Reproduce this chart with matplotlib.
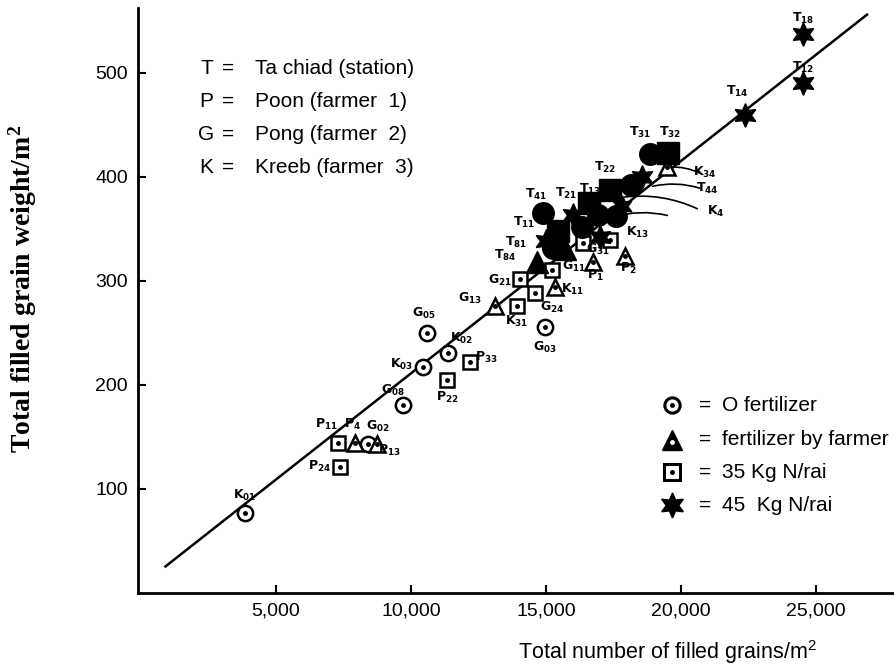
import matplotlib.pyplot as plt

plt.rcParams["mathtext.default"] = "regular"

# regression line  (weight = a + b * grains)
line_a, line_b = 6.9, 0.0204
line_x = [900, 26900]

# O fertilizer (open circle)
circ_names = ["K01", "G08", "K03", "G05", "K02", "G02", "G03"]
circ_x = [3850, 9700, 10450, 10600, 11370, 8400, 14950]
circ_y = [77, 180, 217, 250, 230, 143, 255]

# fertilizer by farmer (open triangle)
tri_names = ["P4", "P13", "G13", "K11", "P1", "P2", "K34"]
tri_x = [7930, 8740, 13110, 15330, 16740, 17930, 19480]
tri_y = [144, 143, 276, 294, 318, 324, 409]

# 35 Kg N/rai (open square)
sq_names = ["P11", "P24", "P22", "P33", "K31", "G21", "G24", "G11", "G31", "K13"]
sq_x = [7300, 7370, 11330, 12190, 13930, 14040, 14590, 15220, 16370, 17370]
sq_y = [144, 121, 204, 222, 276, 302, 288, 310, 336, 339]

# 45 Kg N/rai (star)
star_names = ["T18", "T12", "T14", "T21", "", "", ""]
star_x = [24520, 24520, 22370, 16000, 15000, 17000, 18550]
star_y = [537, 490, 459, 363, 338, 342, 400]

# station plots (filled, crowded group)
tf_names = ["T84", "T81", "T41", "T11", "T13", "T22", "T31", "T32", "T44", "", "", "", "", ""]
tf_mark = ["^", "o", "o", "s", "o", "s", "o", "s", "*", "o", "s", "o", "o", "^"]
tf_x = [14670, 15260, 14890, 15440, 16930, 17370, 18850, 19520, 17810, 16350, 16600, 18150, 17600, 15700]
tf_y = [318, 331, 365, 348, 363, 387, 422, 423, 372, 352, 375, 392, 362, 330]

# label offsets (pixels)
circ_off = [(0, 17), (-10, 15), (-22, 3), (-3, 19), (14, 15), (10, 18), (0, -20)]
tri_off = [(-3, 18), (12, -6), (-25, 7), (18, -3), (3, -14), (3, -13), (38, -5)]
sq_off = [(-12, 18), (-20, 0), (0, -17), (16, 4), (0, -16), (-20, -2), (17, -14), (22, 4), (15, -6), (28, 8)]
star_off = [(0, 16), (0, 15), (-8, 24), (-7, 22), (0, 0), (0, 0), (0, 0)]
tf_off = [(-32, 6), (-37, 6), (-7, 19), (-34, 8), (-8, 26), (-5, 23), (-10, 21), (2, 20), (85, 17),
          (0, 0), (0, 0), (0, 0), (0, 0), (0, 0)]

fig = plt.figure(figsize=(8.94, 6.69), dpi=100)
ax = fig.add_axes([0.154, 0.114, 0.846, 0.874])

ax.plot(line_x, [line_a + line_b * v for v in line_x], color="black", lw=1.8, zorder=1)


def hollow(xs, ys, marker, ms):
    ax.plot(xs, ys, ls="none", marker=marker, ms=ms, mfc="white", mec="black", mew=1.8, zorder=3)
    ax.plot(xs, ys, ls="none", marker="o", ms=2.5, color="black", zorder=4)


hollow(circ_x, circ_y, "o", 11)
hollow(tri_x, tri_y, "^", 12)
hollow(sq_x, sq_y, "s", 10)
for m, x, y in zip(tf_mark, tf_x, tf_y):
    if m == "*":
        m = (6, 1, 0)
    ax.plot(x, y, ls="none", marker=m, ms=15.5, color="black", zorder=5)
ax.plot(star_x, star_y, ls="none", marker=(6, 1, 0), ms=17, color="black", zorder=5)


def labels(names, xs, ys, offs):
    for n, x, y, (dx, dy) in zip(names, xs, ys, offs):
        if not n:
            continue
        txt = n[0] + "$_{" + n[1:] + "}$"
        ax.annotate(txt, (x, y), xytext=(dx, dy), textcoords="offset pixels",
                    ha="center", va="center", fontsize=9, fontweight="bold", zorder=6)


labels(circ_names, circ_x, circ_y, circ_off)
labels(tri_names, tri_x, tri_y, tri_off)
labels(sq_names, sq_x, sq_y, sq_off)
labels(star_names, star_x, star_y, star_off)
labels(tf_names, tf_x, tf_y, tf_off)

# leader lines from the crowded labels
for (x0, y0), (x1, y1) in [((20800, 402), (19480, 409)), ((20800, 388), (18850, 390)),
                           ((20700, 368), (17810, 380)), ((19600, 362), (17370, 360))]:
    ax.annotate("", (x1, y1), xytext=(x0, y0),
                arrowprops=dict(arrowstyle="-", lw=1.2, color="black",
                                connectionstyle="arc3,rad=0.15"), zorder=2)
ax.text(21300, 366, "K$_{4}$", fontsize=9, fontweight="bold", va="center", ha="center")

key_font = dict(fontsize=15, family="Liberation Sans", va="center")

# key for the plot codes
site_codes = ["T", "P", "G", "K"]
site_names = ["Ta chiad (station)", "Poon (farmer  1)", "Pong (farmer  2)", "Kreeb (farmer  3)"]
for i, (c, s) in enumerate(zip(site_codes, site_names)):
    yy = 0.897 - i * 0.0565
    ax.text(0.091, yy, c, transform=ax.transAxes, ha="center", **key_font)
    ax.text(0.119, yy, "=", transform=ax.transAxes, ha="center", **key_font)
    ax.text(0.155, yy, s, transform=ax.transAxes, **key_font)

# key for treatments
treat_names = ["O fertilizer", "fertilizer by farmer", "35 Kg N/rai", "45  Kg N/rai"]
treat_mark = ["o", "^", "s", (6, 1, 0)]
treat_y = [0.321, 0.262, 0.206, 0.150]
kx = 0.706
for name, m, yy in zip(treat_names, treat_mark, treat_y):
    if m == (6, 1, 0):
        ax.plot(kx, yy, transform=ax.transAxes, marker=m, ms=18, color="black", clip_on=False)
    elif m == "^":
        ax.plot(kx, yy, transform=ax.transAxes, marker=m, ms=14, color="black", clip_on=False)
        ax.plot(kx, yy - 0.004, transform=ax.transAxes, marker="o", ms=2.5, color="white", clip_on=False)
    else:
        ax.plot(kx, yy, transform=ax.transAxes, marker=m, ms=11, mfc="white", mec="black", mew=2.2, clip_on=False)
        ax.plot(kx, yy, transform=ax.transAxes, marker="o", ms=2.5, color="black", clip_on=False)
    ax.text(kx + 0.044, yy, "=", transform=ax.transAxes, ha="center", **key_font)
    ax.text(kx + 0.067, yy, name, transform=ax.transAxes, **key_font)

ax.set_xlim(-130, 27900)
ax.set_ylim(0, 562)
ax.set_xticks([5000, 10000, 15000, 20000, 25000])
ax.set_xticklabels(["5,000", "10,000", "15,000", "20,000", "25,000"])
ax.set_yticks([100, 200, 300, 400, 500])
ax.tick_params(direction="in", length=6, width=1.5, labelsize=14, pad=7)
for lab in ax.get_xticklabels() + ax.get_yticklabels():
    lab.set_family("Liberation Sans")
ax.spines["top"].set_visible(False)
ax.spines["right"].set_visible(False)
ax.spines["left"].set_linewidth(2)
ax.spines["bottom"].set_linewidth(2)

fig.text(0.025, 0.568, "Total filled grain weight/m$^{2}$", rotation=90, ha="center", va="center",
         fontsize=20, fontweight="bold", family="Liberation Serif")
fig.text(0.747, 0.025, "Total number of filled grains/m$^{2}$", ha="center", va="center",
         fontsize=15.5, family="Liberation Sans")

fig.savefig("out.png", dpi=100)
